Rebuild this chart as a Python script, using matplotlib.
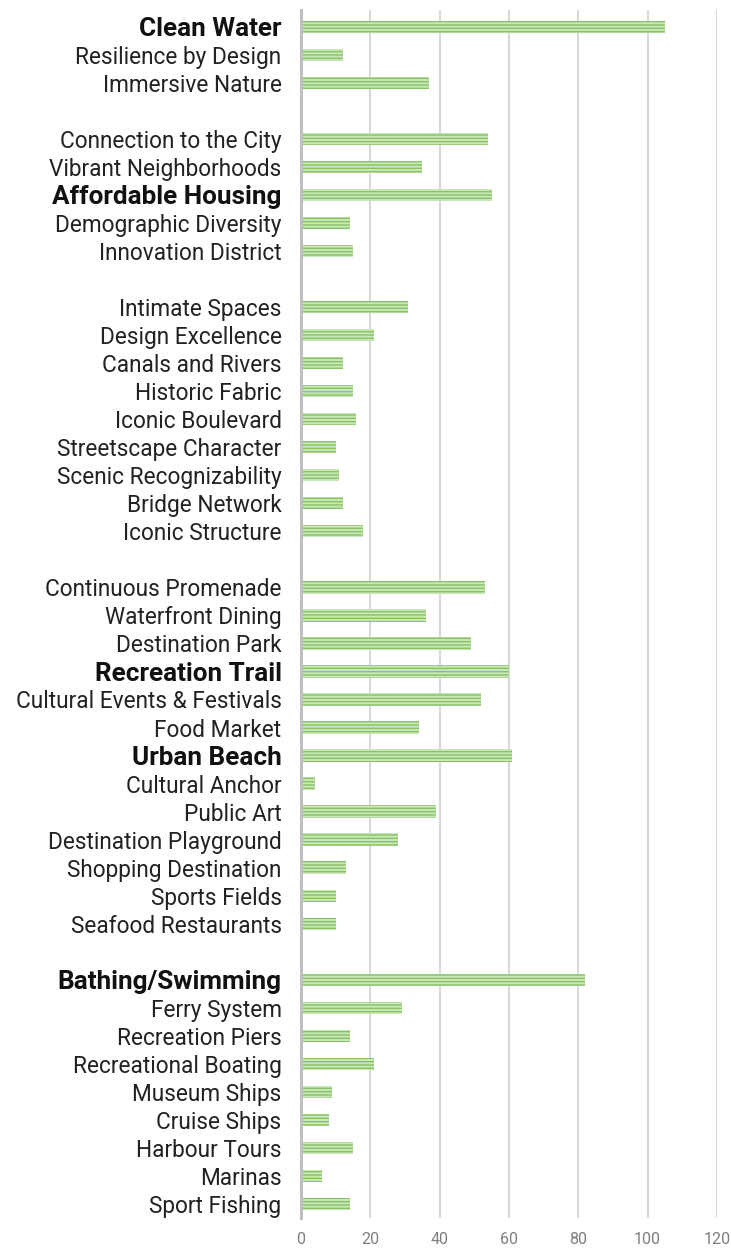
import matplotlib
matplotlib.use("Agg")
import matplotlib.pyplot as plt

plt.rcParams['font.family'] = ['Roboto', 'DejaVu Sans']
plt.rcParams['hatch.linewidth'] = 1.0

# Priorities, grouped by theme (top to bottom)
water_quality = ["Clean Water", "Resilience by Design", "Immersive Nature"]
water_quality_votes = [105, 12, 37]

neighborhoods = ["Connection to the City", "Vibrant Neighborhoods", "Affordable Housing",
                 "Demographic Diversity", "Innovation District"]
neighborhoods_votes = [54, 35, 55, 14, 15]

character = ["Intimate Spaces", "Design Excellence", "Canals and Rivers", "Historic Fabric",
             "Iconic Boulevard", "Streetscape Character", "Scenic Recognizability",
             "Bridge Network", "Iconic Structure"]
character_votes = [31, 21, 12, 15, 16, 10, 11, 12, 18]

destinations = ["Continuous Promenade", "Waterfront Dining", "Destination Park",
                "Recreation Trail", "Cultural Events & Festivals", "Food Market",
                "Urban Beach", "Cultural Anchor", "Public Art", "Destination Playground",
                "Shopping Destination", "Sports Fields", "Seafood Restaurants"]
destinations_votes = [53, 36, 49, 60, 52, 34, 61, 4, 39, 28, 13, 10, 10]

on_the_water = ["Bathing/Swimming", "Ferry System", "Recreation Piers", "Recreational Boating",
                "Museum Ships", "Cruise Ships", "Harbour Tours", "Marinas", "Sport Fishing"]
on_the_water_votes = [82, 29, 14, 21, 9, 8, 15, 6, 14]

highlighted = ["Clean Water", "Affordable Housing", "Recreation Trail", "Urban Beach",
               "Bathing/Swimming"]

x_ticks = [0, 20, 40, 60, 80, 100, 120]

groups = [
    (water_quality, water_quality_votes),
    (neighborhoods, neighborhoods_votes),
    (character, character_votes),
    (destinations, destinations_votes),
    (on_the_water, on_the_water_votes),
]

# Lay the groups out one row per item, with an empty row between groups
labels, values, rows = [], [], []
row = 0
for names, votes in groups:
    for n, v in zip(names, votes):
        labels.append(n)
        values.append(v)
        rows.append(row)
        row += 1
    row += 1
last_row = rows[-1]

fig = plt.figure(figsize=(7.31, 12.5), dpi=100)
ax = fig.add_axes([301 / 731, 1 - 1218 / 1250, 416 / 731, (1218 - 10) / 1250])

ax.barh(rows, values, height=0.44, color="#cbe6b8", edgecolor="#86c466",
        linewidth=0, hatch="-----", zorder=3)

ax.set_xlim(0, 120)
ax.set_ylim(last_row + 0.5, -0.6)
ax.set_xticks(x_ticks)
ax.set_xticklabels([str(t) for t in x_ticks])
ax.set_yticks(rows)
ax.set_yticklabels(labels)

ax.xaxis.grid(True, color="#d9d9d9", linewidth=1.5, zorder=0)
ax.yaxis.grid(False)
ax.set_axisbelow(True)

for side in ("top", "right", "bottom"):
    ax.spines[side].set_visible(False)
ax.spines["left"].set_color("#bfbfbf")
ax.spines["left"].set_linewidth(2.2)
ax.spines["left"].set_zorder(4)

ax.tick_params(axis="y", length=0, pad=14, labelsize=16.3, labelcolor="#222222")
ax.tick_params(axis="x", length=0, pad=10, labelsize=11.5, labelcolor="#7f7f7f")

for t in ax.get_yticklabels():
    if t.get_text() in highlighted:
        t.set_fontweight("bold")
        t.set_fontsize(18.8)
        t.set_color("#111111")

fig.savefig("out.png", dpi=100, facecolor="white")
